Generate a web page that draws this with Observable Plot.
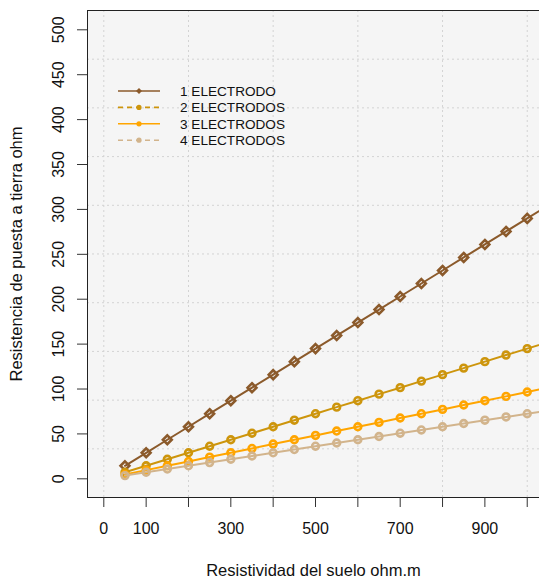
<!DOCTYPE html>
<html>
<head>
<meta charset="utf-8">
<script src="https://cdn.jsdelivr.net/npm/d3@7"></script>
<script src="https://cdn.jsdelivr.net/npm/@observablehq/plot@0.6"></script>
<style>
  html, body { margin: 0; padding: 0; background: #ffffff; }
  #wrap { position: relative; width: 539px; height: 578px; font-family: "Liberation Sans", Arial, sans-serif; }
  #legend { position: absolute; left: 0; top: 0; pointer-events: none; }
</style>
</head>
<body>
<div id="wrap"></div>
<script>
// ---- data ----
const resistividad = [50, 100, 150, 200, 250, 300, 350, 400, 450, 500, 550, 600, 650, 700, 750, 800, 850, 900, 950, 1000, 1050];
const electrodo1 = [14.5, 29, 43.5, 58, 72.5, 87, 101.5, 116, 130.5, 145, 159.5, 174, 188.5, 203, 217.5, 232, 246.5, 261, 275.5, 290, 304.5];
const electrodos2 = [7.3, 14.5, 21.8, 29, 36.3, 43.5, 50.8, 58, 65.3, 72.5, 79.8, 87, 94.3, 101.5, 108.8, 116, 123.3, 130.5, 137.8, 145, 152.3];
const electrodos3 = [4.8, 9.7, 14.5, 19.3, 24.2, 29, 33.8, 38.7, 43.5, 48.3, 53.2, 58, 62.8, 67.7, 72.5, 77.3, 82.2, 87, 91.8, 96.7, 101.5];
const electrodos4 = [3.6, 7.3, 10.9, 14.5, 18.1, 21.8, 25.4, 29, 32.6, 36.3, 39.9, 43.5, 47.1, 50.8, 54.4, 58, 61.6, 65.3, 68.9, 72.5, 76.1];

const seriesNames = ["1 ELECTRODO", "2 ELECTRODOS", "3 ELECTRODOS", "4 ELECTRODOS"];
const seriesColors = ["#8B5A2B", "#CD950C", "#FFA500", "#D2B48C"];
const seriesDashed = [false, true, false, true];

const xTicks = [0, 100, 200, 300, 400, 500, 600, 700, 800, 900, 1000];
const xTickLabels = ["0", "100", "", "300", "", "500", "", "700", "", "900", ""];
const yTicks = [0, 50, 100, 150, 200, 250, 300, 350, 400, 450, 500];
const xGrid = [0, 200, 400, 600, 800, 1000];
const yGrid = [33.4, 87.6, 141.9, 196.1, 250.4, 304.6, 358.8, 413.1, 467.3];

const xTitle = "Resistividad del suelo ohm.m";
const yTitle = "Resistencia de puesta a tierra ohm";

const xDomain = [-38.5, 1029];
const yDomain = [-20.8, 521.5];

// ---- build ----
const allSeries = [electrodo1, electrodos2, electrodos3, electrodos4];
const tables = allSeries.map((vals, k) => resistividad.map((x, i) => ({x, y: vals[i], serie: seriesNames[k]})));

const marks = [
  Plot.frame({fill: "#f5f5f5", stroke: "none"}),
  Plot.ruleX(xGrid, {stroke: "#d3d3d3", strokeDasharray: "2,3"}),
  Plot.ruleY(yGrid, {stroke: "#d3d3d3", strokeDasharray: "2,3"}),
];
tables.forEach((t, k) => {
  marks.push(Plot.line(t, {x: "x", y: "y", stroke: seriesColors[k], strokeWidth: 2, clip: true}));
  marks.push(Plot.dot(t, {x: "x", y: "y", stroke: seriesColors[k], symbol: k === 0 ? "diamond2" : "circle", r: k === 0 ? 4 : 3.4, strokeWidth: 2.6, fill: "none", clip: true}));
});
marks.push(
  Plot.ruleX([xDomain[0]], {stroke: "#222"}),
  Plot.ruleY([yDomain[0], yDomain[1]], {stroke: "#222"}),
  Plot.axisX(xTicks, {anchor: "bottom", tickSize: 10, tickFormat: () => "", label: null, stroke: "#333"}),
  Plot.axisY(yTicks, {anchor: "left", tickSize: 10, tickFormat: () => "", label: null, stroke: "#333"}),
  Plot.text(xTicks, {x: d => d, text: (d, i) => xTickLabels[i], frameAnchor: "bottom", dy: 25, lineAnchor: "top", textAnchor: "middle", fontSize: 16, fill: "#111"}),
  Plot.text(yTicks, {y: d => d, text: d => String(d), frameAnchor: "left", dx: -28.5, rotate: -90, textAnchor: "middle", lineAnchor: "middle", fontSize: 16, fill: "#111"}),
  Plot.text([xTitle], {text: d => d, frameAnchor: "bottom", dy: 73, textAnchor: "middle", lineAnchor: "middle", fontSize: 16.5, fill: "#111"}),
  Plot.text([yTitle], {text: d => d, frameAnchor: "left", dx: -71, rotate: -90, textAnchor: "middle", lineAnchor: "middle", fontSize: 16.5, fill: "#111"})
);

const chart = Plot.plot({
  width: 539,
  height: 578,
  marginLeft: 87,
  marginRight: 0,
  marginTop: 10,
  marginBottom: 81,
  style: {fontFamily: "Liberation Sans, Arial, sans-serif", background: "#ffffff"},
  x: {domain: xDomain},
  y: {domain: yDomain},
  marks
});
const wrap = document.getElementById("wrap");
wrap.appendChild(chart);

// ---- legend (overlay inside the plot area, top-left) ----
const ns = "http://www.w3.org/2000/svg";
const leg = document.createElementNS(ns, "svg");
leg.setAttribute("id", "legend");
leg.setAttribute("width", 539);
leg.setAttribute("height", 578);
const rowY = [91, 107.4, 123.8, 140.2];
seriesNames.forEach((name, k) => {
  const y = rowY[k];
  const line = document.createElementNS(ns, "line");
  line.setAttribute("x1", 118); line.setAttribute("x2", 160);
  line.setAttribute("y1", y); line.setAttribute("y2", y);
  line.setAttribute("stroke", seriesColors[k]);
  line.setAttribute("stroke-width", 1.6);
  if (seriesDashed[k]) line.setAttribute("stroke-dasharray", "5,4");
  leg.appendChild(line);
  let mk;
  if (k === 0) {
    mk = document.createElementNS(ns, "path");
    mk.setAttribute("d", `M139,${y - 3}L142,${y}L139,${y + 3}L136,${y}Z`);
  } else {
    mk = document.createElementNS(ns, "circle");
    mk.setAttribute("cx", 139); mk.setAttribute("cy", y); mk.setAttribute("r", 2.6);
  }
  mk.setAttribute("fill", seriesColors[k]);
  leg.appendChild(mk);
  const tx = document.createElementNS(ns, "text");
  tx.setAttribute("x", 180);
  tx.setAttribute("y", y + 5);
  tx.setAttribute("font-size", "13.6px");
  tx.setAttribute("font-family", "Liberation Sans, Arial, sans-serif");
  tx.setAttribute("fill", "#111");
  tx.textContent = name;
  leg.appendChild(tx);
});
wrap.appendChild(leg);
</script>
</body>
</html>
